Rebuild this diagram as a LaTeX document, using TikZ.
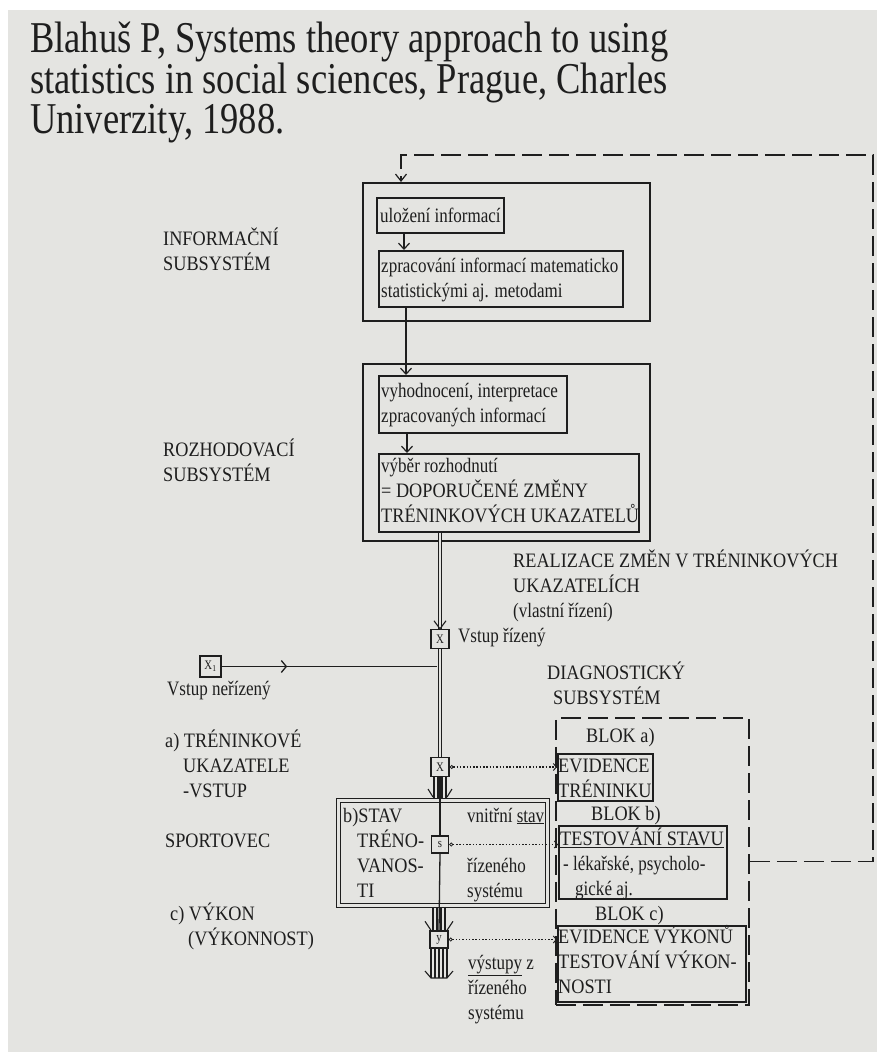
\documentclass[tikz,border=0pt]{standalone}
\usepackage{fontspec}
\setmainfont{Liberation Serif}
\newfontfamily\dgfam[FakeStretch=0.83]{Liberation Serif}
\newfontfamily\dgcap[FakeStretch=0.89]{Liberation Serif}
\usetikzlibrary{arrows.meta,calc,decorations.markings}
\definecolor{bgc}{RGB}{228,228,225}
\definecolor{ink}{RGB}{30,30,30}
\newcommand{\dgf}{\dgfam\fontsize{20.5}{25}\selectfont}
\newcommand{\cf}{\dgcap\fontsize{20.5}{25}\selectfont}
\newcommand{\ttlf}{\dgfam\fontsize{44}{37.5}\selectfont}
\newcommand{\smf}{\dgfam\fontsize{13}{13}\selectfont}
\begin{document}
\begin{tikzpicture}[x=1pt,y=-1pt,
  box/.style={draw=ink,line width=1.5pt,anchor=north west,inner sep=0pt},
  sbx/.style={draw=ink,fill=bgc,line width=1.4pt,inner sep=0pt,minimum width=18pt,minimum height=19pt,font=\smf,text=ink},
  lbl/.style={anchor=base west,inner sep=0pt,align=left,font=\dgf,text=ink},
  clbl/.style={lbl,font=\cf},
  con/.style={draw=ink,line width=1.5pt},
  thin/.style={draw=ink,line width=1.1pt},
  arr/.style={con,-{Straight Barb[length=6pt,width=11pt,line width=1.2pt]}},
  dbl/.style={draw=ink,line width=1.2pt,double=bgc,double distance=2.5pt},
  dotc/.style={draw=ink,line width=1.5pt,dash pattern=on 1.5pt off 1.8pt,
     {Circle[open,length=4pt,width=4pt,line width=0.8pt]}-{Straight Barb[length=3pt,width=7pt,line width=1pt]}},
  fb/.style={draw=ink,line width=1.8pt,dash pattern=on 20pt off 7pt},
]
\fill[white] (0,0) rectangle (877,1052);
\fill[bgc] (8,10) rectangle (877,1052);
\useasboundingbox (0,0) rectangle (877,1052);

% title (base = last line)
\node[anchor=base west,inner sep=0pt,align=left,font=\ttlf,text=ink] (title) at (30,133)
  {Blahuš P, Systems theory approach to using\\statistics in social sciences, Prague, Charles\\Univerzity, 1988.};

% boxes
\node[box,minimum width=287pt,minimum height=138pt] (info) at (362,182) {};
\node[box,minimum width=127pt,minimum height=35pt] (ulo) at (376,197) {};
\node[box,minimum width=244pt,minimum height=56pt] (zpr) at (378,250) {};
\node[box,minimum width=287pt,minimum height=177pt] (roz) at (362,363) {};
\node[box,minimum width=188pt,minimum height=57pt] (vyh) at (378,375) {};
\node[box,minimum width=260pt,minimum height=78pt] (vyb) at (378,453) {};
\node[box,line width=1.2pt,double=bgc,double distance=3pt,minimum width=209pt,minimum height=105pt] (sport) at (338,800) {};
\node[box,fb,minimum width=193pt,minimum height=287pt] (diag) at (555,717) {};
\node[box,minimum width=95pt,minimum height=47pt] (evt) at (557,753) {};
\node[box,minimum width=168pt,minimum height=73pt] (tst) at (558,825) {};
\node[box,minimum width=188pt,minimum height=76pt] (evv) at (557,925) {};

% box texts (anchor base = last line)
\node[lbl] (tulo) at (380,222) {uložení informací};
\node[lbl] (tzpr) at (381,297) {zpracování informací matematicko\\statistickými aj. metodami};
\node[lbl] (tvyh) at (381,422) {vyhodnocení, interpretace\\zpracovaných informací};
\node[lbl] (tvyb) at (381,522) {výběr rozhodnutí\\{\cf = DOPORUČENÉ ZMĚNY}\\{\cf TRÉNINKOVÝCH UKAZATELŮ}};
\node[clbl] (tevt) at (558,797) {EVIDENCE\\TRÉNINKU};
\node[lbl] (ttst) at (560,895) {{\cf\underline{TESTOVÁNÍ STAVU}}\\\hspace*{3pt}- lékařské, psycholo-\\\hspace*{15pt}gické aj.};
\node[clbl] (tevv) at (558,993) {EVIDENCE VÝKONŮ\\TESTOVÁNÍ VÝKON-\\NOSTI};

% side labels
\node[clbl] (linf) at (163,270) {INFORMAČNÍ\\SUBSYSTÉM};
\node[clbl] (lroz) at (163,481) {ROZHODOVACÍ\\SUBSYSTÉM};
\node[lbl] (lrea) at (513,617) {{\cf REALIZACE ZMĚN V TRÉNINKOVÝCH}\\{\cf UKAZATELÍCH}\\(vlastní řízení)};
\node[clbl] (ldia) at (547,704) {DIAGNOSTICKÝ\\\hspace*{6pt}SUBSYSTÉM};
\node[clbl] (ltre) at (165,797) {a) TRÉNINKOVÉ\\\hspace*{18pt}UKAZATELE\\\hspace*{18pt}-VSTUP};
\node[clbl] (lspo) at (165,847) {SPORTOVEC};
\node[clbl] (lvyk) at (170,945) {c) VÝKON\\\hspace*{18pt}(VÝKONNOST)};
\node[clbl] (lsta) at (343,897) {b)STAV\\\hspace*{14pt}TRÉNO-\\\hspace*{14pt}VANOS-\\\hspace*{14pt}TI};
\node[lbl] (lvni) at (467,822) {vnitřní \underline{stav}};
\node[lbl] (lriz) at (467,897) {řízeného\\systému};
\node[lbl] (lvys) at (468,1019) {\underline{výstupy} z\\řízeného\\systému};
\node[clbl] (lbla) at (586,742) {BLOK a)};
\node[clbl] (lblb) at (591,820) {BLOK b)};
\node[clbl] (lblc) at (595,920) {BLOK c)};
\node[lbl] (lvri) at (458,642) {Vstup řízený};
\node[lbl] (lvne) at (167,695) {Vstup neřízený};

% small boxes
\node[sbx] (xb) at (440,639) {X};
\node[sbx,minimum width=21pt,minimum height=21pt] (x1b) at (210.5,666.5) {X\textsubscript{1}};
\node[sbx] (x2b) at (440,767) {X};
\node[sbx,minimum width=17pt,minimum height=17pt] (sb) at (440,844.5) {s};
\node[sbx,minimum height=17pt] (yb) at (439,939.5) {y};

% connectors in the subsystems
\coordinate (c1) at ($(ulo.south west)+(28,0)$);
\draw[arr] (c1) -- (c1 |- zpr.north);
\coordinate (c2) at ($(zpr.south west)+(28,0)$);
\draw[arr] (c2) -- (c2 |- vyh.north);
\coordinate (c3) at ($(vyh.south west)+(29,0)$);
\draw[arr] (c3) -- (c3 |- vyb.north);

% controlled input
\coordinate (c4) at (xb.north |- vyb.south);
\draw[dbl] (c4) -- (xb.north);
\draw[thin] ($(xb.north)+(-6,-8)$) -- (xb.north) -- ($(xb.north)+(6,-8)$);
\draw[dbl] (xb.south) -- (x2b.north);
\coordinate (j1) at ($(xb.south |- x1b.east)+(-3,0)$);
\draw[con,postaction={decorate},decoration={markings,mark=at position 0.3 with
   {\draw[ink,line width=1.3pt] (-5pt,-6pt) -- (0,0) -- (-5pt,6pt);}}] (x1b.east) -- (j1);

% bundle into the athlete
\coordinate (s1) at (x2b.south |- sport.north);
\foreach \d in {-6,-2,2,6} {\draw[thin] ($(x2b.south)+(\d,0)$) -- ($(s1)+(\d,-2)$);}
\draw[thin] ($(s1)+(-12,-11)$) -- ($(s1)+(-7,-3)$);
\draw[thin] ($(s1)+(12,-11)$) -- ($(s1)+(7,-3)$);
\draw[con,line width=1.3pt] (x2b.south) -- (sb.north);
\draw[con,line width=1.3pt] (sb.south) -- (yb.north);

% bundle out of the athlete
\coordinate (s2) at (yb.north |- sport.south);
\foreach \d in {-6,-2,2,6} {\draw[thin] ($(s2)+(\d,2)$) -- ($(yb.north)+(\d,0)$);}
\draw[thin] ($(yb.north)+(-14,-9)$) -- ($(yb.north)+(-8,0)$);
\draw[thin] ($(yb.north)+(14,-9)$) -- ($(yb.north)+(8,0)$);
\coordinate (yout) at (439,978);
\foreach \d in {-8,-4,0,4,8} {\draw[thin] ($(yb.south)+(\d,0)$) -- ($(yout)+(\d,0)$);}
\draw[thin] ($(yout)+(-14,-7)$) -- ($(yout)+(-8,0)$) -- ($(yout)+(8,0)$) -- ($(yout)+(14,-7)$);

% diagnostic links
\draw[dotc] (x2b.east) -- (x2b.east -| evt.west);
\draw[dotc] (sb.east) -- (sb.east -| tst.west);
\draw[dotc] (yb.east) -- (yb.east -| evv.west);

% feedback
\coordinate (fbc) at (873,155);
\coordinate (fbe) at ($(info.north west)+(39,0)$);
\draw[fb,-{Straight Barb[length=7pt,width=11pt,line width=1.2pt]}] (diag.east) -| (fbc) -| (fbe);
\end{tikzpicture}
\end{document}
